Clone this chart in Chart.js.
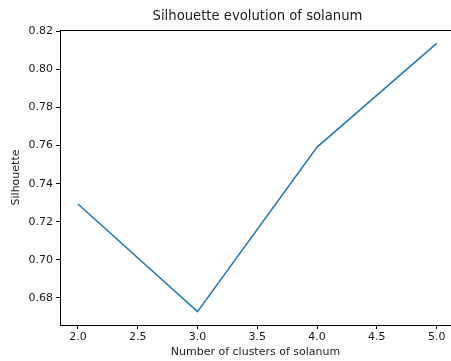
<!DOCTYPE html>
<html>
<head>
<meta charset="utf-8">
<script src="https://cdn.jsdelivr.net/npm/chart.js@4/dist/chart.umd.min.js"></script>
<style>
  html, body { margin: 0; padding: 0; background: #fff; overflow: hidden; }
</style>
</head>
<body>
<canvas id="silhouetteChart" width="451" height="361"></canvas>
<script>
// silhouette score per number of clusters
const clusters = [2, 3, 4, 5];
const silhouette = [0.7293, 0.6728, 0.7592, 0.8137];

const xTicks = [2.0, 2.5, 3.0, 3.5, 4.0, 4.5, 5.0];
const yTicks = [0.68, 0.70, 0.72, 0.74, 0.76, 0.78, 0.80, 0.82];

const chartTitle = "Silhouette evolution of solanum";
const xLabel = "Number of clusters of solanum";
const yLabel = "Silhouette";

const textColor = "#1a1a1a";
const fontFamily = "DejaVu Sans";

// title centred over the plot area, plus the top spine
const framePlugin = {
  id: "frame",
  afterDraw(chart) {
    const { ctx, chartArea } = chart;
    ctx.save();
    ctx.strokeStyle = "#000";
    ctx.lineWidth = 1;
    ctx.beginPath();
    ctx.moveTo(chartArea.left, chartArea.top + 0.5);
    ctx.lineTo(chartArea.right, chartArea.top + 0.5);
    ctx.stroke();
    ctx.fillStyle = textColor;
    ctx.font = `13.2px "${fontFamily}"`;
    ctx.textAlign = "center";
    ctx.textBaseline = "middle";
    ctx.fillText(chartTitle, (chartArea.left + chartArea.right) / 2 + 2, 17);
    ctx.restore();
  },
};

const ctx = document.getElementById("silhouetteChart").getContext("2d");

new Chart(ctx, {
  type: "line",
  data: {
    datasets: [
      {
        data: clusters.map((c, i) => ({ x: c, y: silhouette[i] })),
        borderColor: "#1f77b4",
        borderWidth: 1.5,
        pointRadius: 0,
        fill: false,
        tension: 0,
      },
    ],
  },
  options: {
    responsive: false,
    animation: false,
    layout: { padding: { top: 30, right: 0, left: 0, bottom: 0 } },
    plugins: {
      legend: { display: false },
      tooltip: { enabled: false },
    },
    scales: {
      x: {
        type: "linear",
        min: 1.85,
        max: 5.12,
        afterBuildTicks: (scale) => {
          scale.ticks = xTicks.map((v) => ({ value: v }));
        },
        afterFit: (scale) => {
          scale.height = 36;
        },
        grid: { drawOnChartArea: false, drawTicks: true, tickLength: 4, color: "#000" },
        border: { display: true, color: "#000", width: 1 },
        ticks: {
          color: textColor,
          padding: 2,
          maxRotation: 0,
          font: { family: fontFamily, size: 11 },
          callback: (v) => v.toFixed(1),
        },
        title: {
          display: true,
          text: xLabel,
          color: textColor,
          font: { family: fontFamily, size: 11 },
          padding: { top: 0, bottom: 2 },
        },
      },
      y: {
        type: "linear",
        min: 0.6658,
        max: 0.8207,
        afterBuildTicks: (scale) => {
          scale.ticks = yTicks.map((v) => ({ value: v }));
        },
        afterFit: (scale) => {
          scale.width = 60;
        },
        grid: { drawOnChartArea: false, drawTicks: true, tickLength: 4, color: "#000" },
        border: { display: true, color: "#000", width: 1 },
        ticks: {
          color: textColor,
          padding: 3,
          font: { family: fontFamily, size: 11 },
          callback: (v) => v.toFixed(2),
        },
        title: {
          display: true,
          text: yLabel,
          color: textColor,
          font: { family: fontFamily, size: 11 },
          padding: { top: 10, bottom: 0 },
        },
      },
    },
  },
  plugins: [framePlugin],
});
</script>
</body>
</html>
